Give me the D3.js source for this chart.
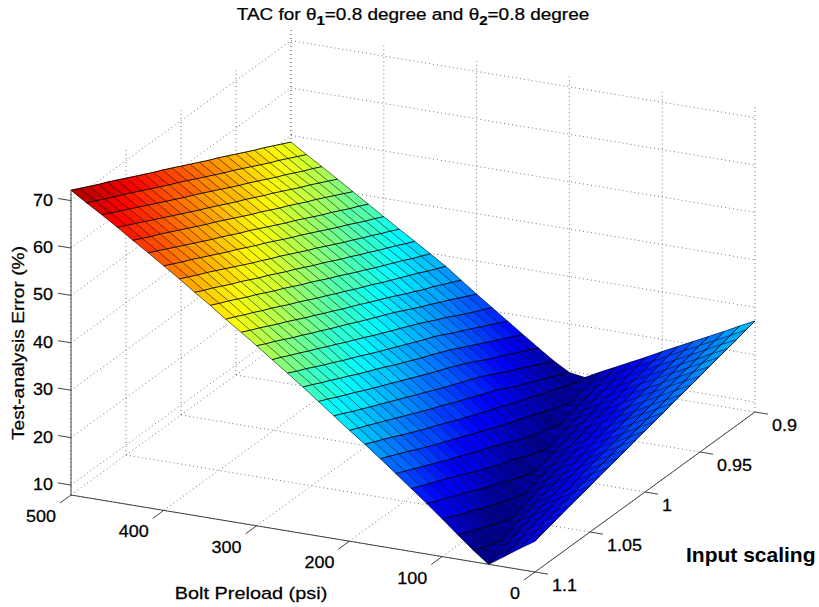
<!DOCTYPE html>
<html><head><meta charset="utf-8">
<script src="https://cdn.jsdelivr.net/npm/d3@7"></script>
<style>html,body{margin:0;background:#fff}svg{display:block}text{font-family:"Liberation Sans",Arial,sans-serif;fill:#000}</style>
</head><body><svg id="c" width="819" height="607"></svg>
<script>
const titleParts = [["TAC for θ",0],["1",1],["=0.8 degree and θ",0],["2",1],["=0.8 degree",0]];
const xTicks = [0,100,200,300,400,500];
const yTicks = [0.9,0.95,1,1.05,1.1];
const yTickLabels = ["0.9","0.95","1","1.05","1.1"];
const zTicks = [10,20,30,40,50,60,70];
const boltPreload = [500,483.3,466.7,450,433.3,416.7,400,383.3,366.7,350,333.3,316.7,300,283.3,266.7,250,233.3,216.7,200,183.3,166.7,150,133.3,116.7,100,83.3,66.7,50,33.3,16.7,0];
const inputScaling = [0.9,0.9083,0.9167,0.925,0.9333,0.9417,0.95,0.9583,0.9667,0.975,0.9833,0.9917,1,1.0083,1.0167,1.025,1.0333,1.0417,1.05,1.0583,1.0667,1.075,1.0833,1.0917,1.1];
const errorPct = [
[48.6,49.6,50.6,51.6,52.5,53.5,54.5,55.5,56.5,57.4,58.4,59.4,60.4,61.4,62.4,63.3,64.3,65.3,66.3,67.3,68.3,69.2,70.2,71.2,72.2],
[46.5,47.5,48.5,49.5,50.4,51.4,52.4,53.4,54.4,55.3,56.3,57.3,58.3,59.3,60.3,61.2,62.2,63.2,64.2,65.2,66.2,67.1,68.1,69.1,70.1],
[44.5,45.5,46.4,47.4,48.4,49.3,50.3,51.3,52.3,53.2,54.2,55.2,56.2,57.2,58.2,59.1,60.1,61.1,62.1,63.1,64.1,65.1,66.1,67.1,68.1],
[42.4,43.4,44.4,45.4,46.3,47.3,48.3,49.3,50.2,51.2,52.2,53.1,54.1,55.1,56.1,57.0,58.0,59.0,60.0,61.0,62.0,63.0,64.0,65.0,66.0],
[40.3,41.3,42.3,43.3,44.3,45.2,46.2,47.2,48.1,49.1,50.1,51.0,52.0,53.0,54.0,55.0,55.9,56.9,57.9,58.9,59.9,60.9,61.8,62.8,63.8],
[38.2,39.2,40.1,41.1,42.1,43.0,44.0,45.0,46.0,46.9,47.9,48.9,49.9,50.9,51.8,52.8,53.8,54.7,55.7,56.7,57.7,58.7,59.7,60.7,61.7],
[36.1,37.1,38.0,39.0,40.0,40.9,41.9,42.9,43.9,44.9,45.8,46.8,47.8,48.8,49.7,50.7,51.7,52.6,53.6,54.6,55.6,56.6,57.5,58.5,59.5],
[34.0,35.0,35.9,36.9,37.8,38.8,39.7,40.7,41.7,42.7,43.6,44.6,45.6,46.6,47.5,48.5,49.4,50.4,51.4,52.4,53.4,54.4,55.3,56.3,57.3],
[32.0,32.9,33.9,34.8,35.7,36.7,37.6,38.6,39.5,40.5,41.5,42.4,43.4,44.4,45.3,46.3,47.3,48.2,49.2,50.2,51.1,52.1,53.1,54.0,55.0],
[29.9,30.8,31.7,32.7,33.6,34.5,35.4,36.4,37.3,38.3,39.3,40.2,41.2,42.2,43.1,44.1,45.1,46.0,47.0,48.0,48.9,49.9,50.9,51.8,52.8],
[27.8,28.7,29.6,30.6,31.5,32.4,33.3,34.2,35.2,36.1,37.0,38.0,38.9,39.9,40.8,41.8,42.8,43.7,44.7,45.7,46.6,47.6,48.5,49.5,50.4],
[25.4,26.4,27.3,28.3,29.1,30.1,31.0,32.0,33.0,33.9,34.8,35.8,36.7,37.6,38.6,39.5,40.5,41.4,42.4,43.4,44.3,45.3,46.3,47.2,48.2],
[23.0,24.0,25.0,26.0,26.9,27.9,28.8,29.8,30.8,31.8,32.7,33.6,34.5,35.4,36.4,37.3,38.2,39.2,40.1,41.1,42.0,43.0,44.0,44.9,45.9],
[20.7,21.7,22.6,23.6,24.6,25.7,26.6,27.6,28.6,29.5,30.4,31.3,32.2,33.1,34.1,35.0,35.9,36.9,37.8,38.8,39.7,40.7,41.6,42.6,43.5],
[18.4,19.4,20.4,21.4,22.4,23.4,24.3,25.4,26.4,27.2,28.1,29.0,29.9,30.8,31.7,32.6,33.6,34.5,35.4,36.4,37.3,38.3,39.3,40.2,41.2],
[16.1,17.1,18.1,19.1,20.1,21.1,22.1,23.1,24.1,25.0,25.9,26.7,27.6,28.5,29.4,30.4,31.3,32.2,33.1,34.1,35.0,36.0,36.9,37.9,38.8],
[13.8,14.8,15.8,16.8,17.8,18.7,19.7,20.8,21.8,22.7,23.6,24.4,25.3,26.2,27.1,28.0,28.9,29.8,30.7,31.6,32.6,33.5,34.4,35.4,36.3],
[11.6,12.6,13.5,14.5,15.6,16.4,17.5,18.5,19.6,20.4,21.2,22.1,22.9,23.8,24.7,25.6,26.5,27.4,28.3,29.2,30.1,31.0,31.9,32.9,33.8],
[9.7,10.6,11.6,12.5,13.4,14.3,15.2,16.2,17.3,18.1,18.9,19.8,20.6,21.5,22.4,23.2,24.1,25.0,25.9,26.8,27.7,28.6,29.5,30.4,31.3],
[9.2,9.5,10.2,11.1,11.9,12.6,13.4,14.2,15.0,15.8,16.6,17.4,18.2,19.1,19.9,20.8,21.7,22.5,23.4,24.3,25.2,26.2,27.1,28.0,28.9],
[10.9,10.3,9.7,9.1,9.6,10.3,11.1,11.9,12.7,13.5,14.2,15.0,15.8,16.7,17.5,18.4,19.2,20.1,20.9,21.8,22.7,23.7,24.6,25.5,26.4],
[12.5,11.9,11.3,10.7,10.1,9.5,8.9,9.5,10.2,10.9,11.6,12.4,13.4,14.2,15.1,15.9,16.7,17.6,18.4,19.3,20.2,21.1,22.0,22.9,23.8],
[14.1,13.6,13.0,12.4,11.8,11.2,10.6,10.0,9.4,8.7,9.3,10.0,10.9,11.7,12.4,13.2,14.1,14.9,15.9,16.8,17.7,18.6,19.4,20.3,21.2],
[15.7,15.2,14.6,14.0,13.4,12.9,12.3,11.7,11.1,10.5,9.8,9.2,8.6,9.2,9.9,10.7,11.6,12.4,13.3,14.2,15.1,15.9,16.8,17.6,18.6],
[17.4,16.8,16.2,15.7,15.1,14.5,13.9,13.4,12.8,12.2,11.6,11.0,10.3,9.7,9.1,8.4,9.1,9.8,10.6,11.5,12.3,13.2,14.0,14.9,15.9],
[19.0,18.5,17.9,17.3,16.8,16.2,15.6,15.0,14.5,13.9,13.3,12.7,12.1,11.5,10.9,10.2,9.6,8.9,8.2,8.9,9.7,10.5,11.3,12.2,13.1],
[20.6,20.1,19.5,18.9,18.4,17.8,17.3,16.7,16.2,15.6,15.0,14.4,13.8,13.2,12.6,12.0,11.4,10.8,10.1,9.5,8.8,8.1,8.8,9.5,10.4],
[22.2,21.7,21.1,20.6,20.1,19.5,19.0,18.4,17.8,17.3,16.7,16.1,15.6,15.0,14.4,13.9,13.3,12.6,12.0,11.4,10.8,10.1,9.4,8.7,7.9],
[23.8,23.3,22.8,22.2,21.7,21.2,20.7,20.1,19.5,19.0,18.4,17.8,17.3,16.8,16.2,15.7,15.1,14.5,13.9,13.3,12.8,12.1,11.5,10.8,10.1],
[25.5,24.9,24.4,23.9,23.4,22.9,22.3,21.8,21.2,20.7,20.1,19.6,19.0,18.5,18.0,17.5,16.9,16.4,15.8,15.2,14.7,14.1,13.5,12.9,12.3],
[27.1,26.6,26.0,25.5,25.0,24.5,23.9,23.4,22.9,22.4,21.8,21.3,20.8,20.3,19.7,19.2,18.7,18.2,17.6,17.1,16.6,16.1,15.5,15.0,14.4]
];
const zLimits = [7.9,72.2];

const xFrac = d3.scaleLinear().domain([500,0]).range([0,1]);
const yFrac = d3.scaleLinear().domain([1.1,0.9]).range([0,1]);
const zPix = d3.scaleLinear().domain(zLimits).range([0,304.8]);
const project = (x,y,z) => [71+464*xFrac(x)+220*yFrac(y), 495+77*xFrac(x)-160*yFrac(y)-zPix(z)];
const jetStops = d3.scaleLinear().domain([0,.125,.375,.625,.875,1]).range(["#000080","#0000ff","#00ffff","#ffff00","#ff0000","#800000"]).clamp(true);
const colorFrac = d3.scaleLinear().domain(zLimits).range([0,1]).clamp(true);
const jet = z => jetStops((Math.min(63,Math.floor(colorFrac(z)*64))+.5)/64);
const line = d3.line();
const svg = d3.select("#c");
const [zLo,zHi] = zLimits;

// grid
const gridSegs = [];
zTicks.forEach(z=>{gridSegs.push([project(500,1.1,z),project(500,.9,z)]);gridSegs.push([project(500,.9,z),project(0,.9,z)]);});
xTicks.forEach(x=>{gridSegs.push([project(x,.9,zLo),project(x,.9,zHi)]);gridSegs.push([project(x,1.1,zLo),project(x,.9,zLo)]);});
yTicks.forEach(y=>{gridSegs.push([project(500,y,zLo),project(500,y,zHi)]);gridSegs.push([project(500,y,zLo),project(0,y,zLo)]);});
svg.append("g").selectAll("path").data(gridSegs).join("path").attr("d",line)
  .attr("fill","none").attr("stroke","#666").attr("stroke-width",.9).attr("stroke-dasharray","1 3");

// surface
const cells=[];
for(let i=0;i<boltPreload.length-1;i++)for(let j=0;j<inputScaling.length-1;j++){
  const p=[[i,j],[i+1,j],[i+1,j+1],[i,j+1]].map(([a,b])=>project(boltPreload[a],inputScaling[b],errorPct[a][b]));
  cells.push({p,c:jet(errorPct[i+1][j])});
}
svg.append("g").selectAll("path").data(cells).join("path").attr("d",d=>line(d.p)+"Z")
  .attr("fill",d=>d.c).attr("stroke",d=>d.c).attr("stroke-width",.5);
const rowLines=boltPreload.map((x,i)=>inputScaling.map((y,j)=>project(x,y,errorPct[i][j])));
const colLines=inputScaling.map((y,j)=>boltPreload.map((x,i)=>project(x,y,errorPct[i][j])));
svg.append("g").selectAll("path").data(colLines).join("path").attr("d",line).attr("fill","none").attr("stroke","#000").attr("stroke-opacity",.7).attr("stroke-width",.8);
svg.append("g").selectAll("path").data(rowLines).join("path").attr("d",line).attr("fill","none").attr("stroke","#000").attr("stroke-opacity",.9).attr("stroke-width",1);

// axes
const ax=svg.append("g").attr("fill","none").attr("stroke","#444").attr("stroke-width",1);
const axisSegs=[[project(500,1.1,zLo),project(500,1.1,zHi)],[project(500,1.1,zLo),project(0,1.1,zLo)],[project(0,1.1,zLo),project(0,.9,zLo)]];
zTicks.forEach(z=>axisSegs.push([project(500,1.1,z),project(514,1.1,z)]));
xTicks.forEach(x=>axisSegs.push([project(x,1.1,zLo),project(x,1.11,zLo)]));
yTicks.forEach(y=>axisSegs.push([project(0,y,zLo),project(-14,y,zLo)]));
ax.selectAll("path").data(axisSegs).join("path").attr("d",line);

// tick labels (the reference text is slightly wider than it is tall)
const lab=svg.append("g").attr("font-size",16.5).attr("stroke","#000").attr("stroke-width",.25);
const tickText=(x,y,anchor,s)=>lab.append("text").attr("transform",`translate(${x},${y}) scale(1.09,1)`).attr("text-anchor",anchor).text(s);
zTicks.forEach(z=>{const p=project(500,1.1,z);tickText(p[0]-18,p[1]+5,"end",z);});
xTicks.forEach(x=>{const p=project(x,1.1,zLo);tickText(p[0]-15,p[1]+27,"end",x);});
yTicks.forEach((y,k)=>{const p=project(0,y,zLo);tickText(p[0]+17,p[1]+19,"start",yTickLabels[k]);});

// titles
const t=svg.append("text").attr("transform","translate(413,20) scale(1.15,1)").attr("text-anchor","middle").attr("font-size",16.5).attr("stroke","#000").attr("stroke-width",.25);
titleParts.forEach(([s,sub],k)=>{const ts=t.append("tspan").text(s);
  if(sub)ts.attr("dy",5).attr("font-size",13).attr("font-weight","bold");else if(k>0)ts.attr("dy",-5);});
svg.append("text").attr("transform","translate(24,343) rotate(-90) scale(1.13,1)").attr("text-anchor","middle").attr("font-size",17).attr("stroke","#000").attr("stroke-width",.25).text("Test-analysis Error (%)");
svg.append("text").attr("transform","translate(251,599) scale(1.17,1)").attr("text-anchor","middle").attr("font-size",17).attr("stroke","#000").attr("stroke-width",.25).text("Bolt Preload (psi)");
svg.append("text").attr("transform","translate(686,562) scale(1.05,1)").attr("font-size",20).attr("font-weight","bold").text("Input scaling");
</script></body></html>
